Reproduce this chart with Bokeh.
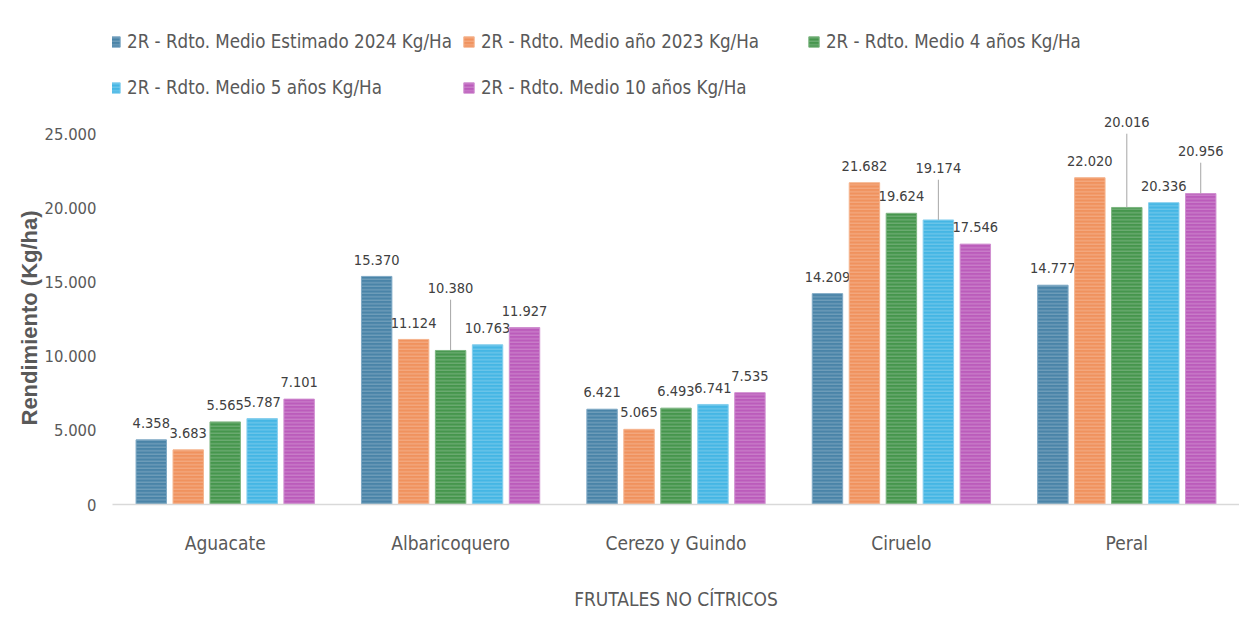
from bokeh.plotting import figure
from bokeh.models import (ColumnDataSource, FactorRange, Range1d, FixedTicker,
                          CustomJSTickFormatter, Legend, LegendItem, Title)
from bokeh.transform import dodge
from bokeh.core.properties import value
from bokeh.embed import file_html
from bokeh.resources import INLINE

# ---------------- data ----------------
categories = ["Aguacate", "Albaricoquero", "Cerezo y Guindo", "Ciruelo", "Peral"]
series_names = [
    "2R - Rdto. Medio Estimado 2024 Kg/Ha",
    "2R - Rdto. Medio año 2023 Kg/Ha",
    "2R - Rdto. Medio 4 años Kg/Ha",
    "2R - Rdto. Medio 5 años Kg/Ha",
    "2R - Rdto. Medio 10 años Kg/Ha",
]
estimado_2024 = [4358, 15370, 6421, 14209, 14777]
anio_2023 = [3683, 11124, 5065, 21682, 22020]
medio_4_anios = [5565, 10380, 6493, 19624, 20016]
medio_5_anios = [5787, 10763, 6741, 19174, 20336]
medio_10_anios = [7101, 11927, 7535, 17546, 20956]
series_values = [estimado_2024, anio_2023, medio_4_anios, medio_5_anios, medio_10_anios]
y_ticks = [0, 5000, 10000, 15000, 20000, 25000]

# ---------------- style ----------------
FONT = "'DejaVu Sans Condensed', 'Roboto Condensed', sans-serif"
colors = ["#4A84A8", "#F0925E", "#46964D", "#45B6E4", "#BB5CBB"]
edge_colors = ["#7FA9C5", "#F5B48E", "#7DB581", "#86CFEE", "#D08FD0"]
offsets = [-0.328, -0.164, 0.0, 0.164, 0.328]
bar_width = 0.135
label_gap = 800          # data units above bar for labels
# labels moved up with a leader line: (category, series index) -> label bottom (data units)
callouts = {("Albaricoquero", 2): 14220, ("Ciruelo", 3): 22306,
            ("Peral", 2): 25406, ("Peral", 4): 23452}

p = figure(width=1239, height=621, x_range=FactorRange(*categories, range_padding=0),
           y_range=Range1d(0, 32750), output_backend="svg", toolbar_location=None,
           min_border_left=112, min_border_right=0, min_border_top=18, min_border_bottom=117)
p.background_fill_color = "white"
p.border_fill_color = "white"
p.outline_line_color = None
p.xgrid.grid_line_color = None
p.ygrid.grid_line_color = None

items = []
for i, (name, vals) in enumerate(zip(series_names, series_values)):
    labels = [f"{v:,}".replace(",", ".") for v in vals]
    label_y = [callouts.get((c, i), v + label_gap) for c, v in zip(categories, vals)]
    src = ColumnDataSource(dict(cat=categories, val=vals, label=labels, label_y=label_y))
    r = p.vbar(x=dodge("cat", offsets[i], range=p.x_range), top="val", width=bar_width,
               source=src, fill_color=colors[i], line_color=edge_colors[i], line_width=1,
               hatch_pattern="-", hatch_color="white", hatch_alpha=0.28,
               hatch_scale=3.5, hatch_weight=1)
    items.append(LegendItem(label=name, renderers=[r]))
    p.text(x=dodge("cat", offsets[i], range=p.x_range), y="label_y", text="label",
           source=src, text_align="center", text_baseline="bottom",
           text_font=value(FONT), text_font_size="14.5px", text_color="#404040")
    cats_c = [c for c in categories if (c, i) in callouts]
    if cats_c:
        y0 = [vals[categories.index(c)] for c in cats_c]
        y1 = [callouts[(c, i)] - 420 for c in cats_c]
        csrc = ColumnDataSource(dict(cat=cats_c, y0=y0, y1=y1))
        p.segment(x0=dodge("cat", offsets[i], range=p.x_range), y0="y0",
                  x1=dodge("cat", offsets[i], range=p.x_range), y1="y1",
                  source=csrc, line_color="#A6A6A6", line_width=1)

legend = Legend(items=items, location=(-4, 399), orientation="horizontal", ncols=3,
                glyph_width=13, glyph_height=13, label_standoff=6, spacing=10,
                label_width=316, label_height=36, padding=0, margin=0,
                border_line_color=None, background_fill_alpha=0, label_text_font=FONT,
                label_text_font_size="18.6px", label_text_color="#595959")
p.add_layout(legend)

# y axis
p.yaxis.ticker = FixedTicker(ticks=y_ticks)
p.yaxis.formatter = CustomJSTickFormatter(
    code="return Math.round(tick).toString().replace(/\\B(?=(\\d{3})+(?!\\d))/g, '.');")
p.yaxis.axis_line_color = None
p.yaxis.major_tick_line_color = None
p.yaxis.minor_tick_line_color = None
p.yaxis.major_label_text_font = FONT
p.yaxis.major_label_text_font_size = "16.5px"
p.yaxis.major_label_text_color = "#595959"
p.yaxis.major_label_standoff = 10

# y axis title, positioned over the 0–25.000 span as in the original
p.add_layout(Title(text="Rendimiento (Kg/ha)", align="left", offset=79, standoff=0,
                   text_font="Liberation Sans", text_font_style="bold",
                   text_font_size="22px", text_color="#595959"), "left")

# x axis
p.xaxis.axis_line_color = "#D9D9D9"
p.xaxis.axis_line_width = 1.5
p.xaxis.major_tick_line_color = None
p.xaxis.minor_tick_line_color = None
p.xaxis.major_label_text_font = FONT
p.xaxis.major_label_text_font_size = "19px"
p.xaxis.major_label_text_color = "#595959"
p.xaxis.major_label_standoff = 21
p.xaxis.axis_label = "FRUTALES NO CÍTRICOS"
p.xaxis.axis_label_text_font = FONT
p.xaxis.axis_label_text_font_style = "normal"
p.xaxis.axis_label_text_font_size = "19px"
p.xaxis.axis_label_text_color = "#595959"
p.xaxis.axis_label_standoff = 31

open("out.html", "w").write(file_html(p, INLINE))
